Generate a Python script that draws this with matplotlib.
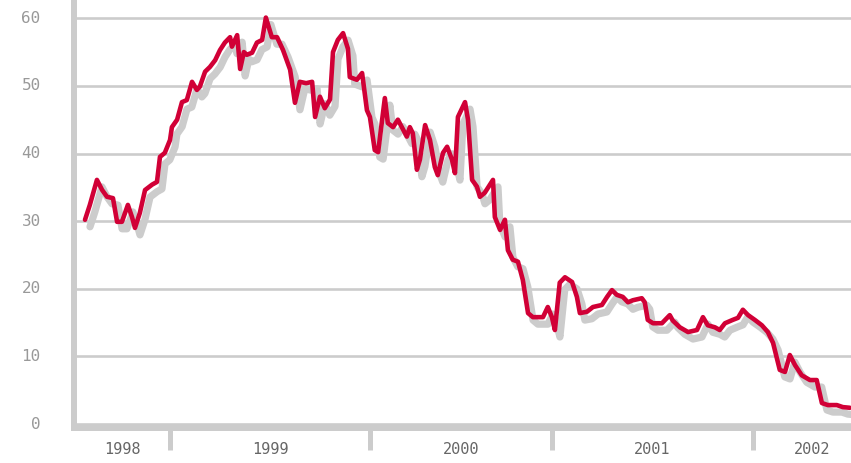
import matplotlib
matplotlib.use("Agg")
import matplotlib.pyplot as plt
from matplotlib import transforms

# weekly closing prices, weeks counted from the first quote
weeks = [0.0, 1.3, 3.2, 4.6, 5.9, 7.5, 8.6, 9.9, 11.5, 12.6, 13.4, 14.7,
         16.1, 18.0, 19.3, 20.1, 21.4, 22.8, 23.3, 24.7, 26.0, 27.3, 28.7,
         30.0, 30.8, 32.2, 33.5, 34.9, 36.2, 37.5, 38.9, 39.4, 40.8, 41.6,
         42.6, 43.4, 44.8, 46.1, 47.5, 48.5, 50.1, 51.5, 53.1, 55.0, 56.3,
         57.6, 59.3, 60.9, 61.7, 63.0, 64.3, 65.7, 66.5, 67.8, 69.2, 70.5,
         71.0, 72.9, 74.3, 75.6, 76.4, 77.7, 78.6, 80.4, 81.2, 82.6, 83.9,
         86.3, 87.1, 87.9, 89.0, 89.8, 91.2, 92.5, 93.8, 94.6, 96.0, 97.1,
         98.4, 99.2, 100.0, 101.9, 102.7, 103.8, 105.1, 105.9, 107.2, 109.4,
         109.9, 111.3, 112.6, 113.4, 114.7, 116.1, 117.4, 118.8, 120.1,
         122.8, 124.1, 125.2, 126.0, 127.3, 128.7, 130.6, 131.9, 132.7,
         134.6, 136.2, 138.6, 140.0, 141.3, 142.6, 144.2, 145.6, 146.9,
         149.3, 150.1, 150.9, 152.3, 154.7, 156.8, 157.6, 159.5, 161.7,
         164.1, 165.7, 167.0, 168.9, 170.2, 171.6, 173.7, 175.1, 176.4,
         177.8, 179.6, 181.5, 183.1, 184.5, 185.5, 186.3, 187.7, 189.0,
         190.4, 192.2, 194.4, 196.2, 197.6, 199.2, 201.6, 203.2, 205.1]

price = [30.2, 32.4, 36.1, 34.6, 33.6, 33.4, 29.9, 29.9, 32.4, 30.6, 29.0, 31.2,
         34.6, 35.4, 35.8, 39.5, 40.1, 42.0, 43.9, 45.0, 47.6, 47.9, 50.6,
         49.4, 49.9, 52.1, 52.8, 53.8, 55.3, 56.4, 57.2, 55.8, 57.5, 52.5,
         55.0, 54.6, 54.9, 56.4, 56.8, 60.1, 57.2, 57.2, 55.3, 52.4, 47.5,
         50.6, 50.4, 50.6, 45.4, 48.4, 46.7, 48.0, 55.0, 56.8, 57.8, 55.5,
         51.3, 50.9, 51.9, 46.4, 45.4, 40.5, 40.2, 48.2, 44.5, 43.9, 45.0,
         42.5, 43.9, 43.0, 37.6, 39.1, 44.2, 42.0, 38.0, 36.8, 40.1, 41.0,
         39.1, 37.1, 45.4, 47.6, 45.0, 36.1, 35.1, 33.6, 34.2, 36.1,
         30.6, 28.7, 30.2, 25.7, 24.3, 24.0, 21.3, 16.4, 15.8,
         15.8, 17.3, 15.8, 13.9, 20.9, 21.7, 21.0, 18.8, 16.4,
         16.6, 17.3, 17.6, 18.8, 19.8, 19.1, 18.8, 18.0, 18.3,
         18.6, 18.0, 15.4, 14.9, 14.9, 16.1, 15.3, 14.3, 13.6,
         13.9, 15.8, 14.6, 14.3, 13.9, 14.9, 15.4, 15.7, 16.9,
         16.1, 15.4, 14.6, 13.6, 12.0, 9.8, 8.0, 7.7, 10.2,
         8.7, 7.2, 6.5, 6.5, 3.1, 2.8, 2.8, 2.5, 2.4]

year_starts = [22.8, 76.4, 125.2, 179.1]
year_labels = ["1998", "1999", "2000", "2001", "2002"]
y_ticks = [0, 10, 20, 30, 40, 50, 60]

GRID = "#cccccc"
RED = "#d10036"


def main():
    fig = plt.figure(figsize=(8.51, 4.63), dpi=100)
    ax = fig.add_axes([74 / 851, 35 / 463, 777 / 851, 428 / 463])

    x_min, x_max = -2.95, 205.4
    ax.set_xlim(x_min, x_max)
    ax.set_ylim(-0.59, 62.7)

    # drop shadow: same series shifted right and down
    shift = transforms.ScaledTranslation(5 / 100, -7 / 100, fig.dpi_scale_trans)
    ax.plot(weeks, price, color=GRID, lw=5.2, solid_joinstyle="round",
            solid_capstyle="round", transform=ax.transData + shift, zorder=2)
    ax.plot(weeks, price, color=RED, lw=3.3, solid_joinstyle="round",
            solid_capstyle="round", zorder=3)

    ax.set_yticks(y_ticks)
    ax.set_yticklabels([str(v) for v in y_ticks])
    ax.yaxis.grid(True, color=GRID, lw=1.9)
    ax.set_axisbelow(True)
    ax.tick_params(axis="y", length=0, pad=24, labelsize=11.5,
                   labelcolor="#999999")
    for lab in ax.get_yticklabels():
        lab.set_fontfamily("DejaVu Sans Mono")
        lab.set_verticalalignment("center")

    # year separators as major ticks, year names as minor ticks between them
    edges = [x_min] + year_starts + [211.0]
    mids = [(a + b) / 2 for a, b in zip(edges[:-1], edges[1:])]
    ax.set_xticks(year_starts)
    ax.set_xticklabels([])
    ax.set_xticks(mids, minor=True)
    ax.set_xticklabels(year_labels, minor=True)
    ax.tick_params(axis="x", which="major", length=16, width=3.6,
                   color=GRID, direction="out")
    ax.tick_params(axis="x", which="minor", length=0, pad=10, labelsize=11,
                   labelcolor="#666666")
    for lab in ax.get_xticklabels(minor=True):
        lab.set_fontfamily("DejaVu Sans Mono")

    for side in ("top", "right"):
        ax.spines[side].set_visible(False)
    for side in ("left", "bottom"):
        ax.spines[side].set_color(GRID)
        ax.spines[side].set_linewidth(4.3)

    fig.savefig("out.png", dpi=100)


if __name__ == "__main__":
    main()
